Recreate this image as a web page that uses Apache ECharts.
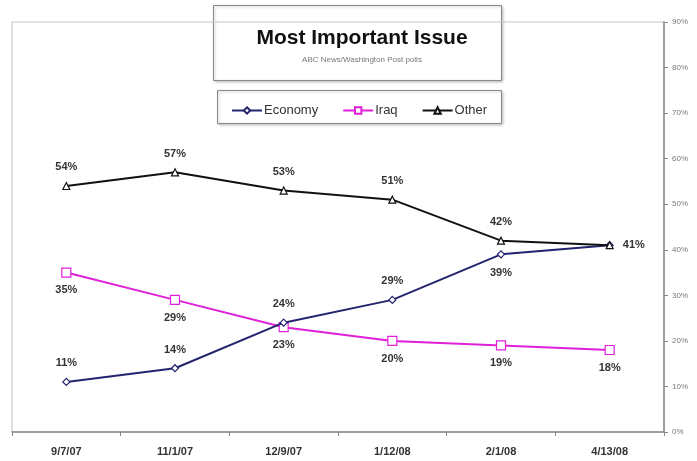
<!DOCTYPE html>
<html>
<head>
<meta charset="utf-8">
<script src="https://cdn.jsdelivr.net/npm/echarts@6/dist/echarts.min.js"></script>
<style>
  html, body { margin: 0; padding: 0; background: #fff; }
  #chart { width: 697px; height: 461px; }
</style>
</head>
<body>
<div id="chart"></div>
<script>
// Poll dates and the share naming each issue as most important (%)
const pollDates = ['9/7/07', '11/1/07', '12/9/07', '1/12/08', '2/1/08', '4/13/08'];
const economy = [11, 14, 24, 29, 39, 41];
const iraq = [35, 29, 23, 20, 19, 18];
const other = [54, 57, 53, 51, 42, 41];
const yTicks = [0, 10, 20, 30, 40, 50, 60, 70, 80, 90];

const FONT = '"Liberation Sans", Arial, sans-serif';
const labelStyle = { fontFamily: FONT, fontSize: 11, fontWeight: 'bold', color: '#333' };

// Per-point label placement for each series
function withLabels(values, places, distance) {
  return values.map((v, i) => {
    const p = places[i];
    if (p === null) return { value: v, label: { show: false } };
    return { value: v, label: Object.assign({ show: true, position: p, distance: distance, formatter: '{c}%' }, labelStyle) };
  });
}

const chart = echarts.init(document.getElementById('chart'), null, { renderer: 'canvas' });

chart.setOption({
  animation: false,
  backgroundColor: '#fff',
  title: {
    text: 'Most Important Issue',
    subtext: 'ABC News/Washington Post polls',
    left: 357,
    top: 23,
    textAlign: 'center',
    itemGap: 7,
    textStyle: { fontFamily: FONT, fontSize: 21, fontWeight: 'bold', color: '#111' },
    subtextStyle: { fontFamily: FONT, fontSize: 8, color: '#777' }
  },
  graphic: [
    {
      type: 'rect',
      shape: { x: 213.5, y: 5.5, width: 288, height: 75 },
      style: { fill: '#fff', stroke: '#8a8a8a', lineWidth: 1, shadowBlur: 3, shadowOffsetX: 1, shadowOffsetY: 1, shadowColor: 'rgba(0,0,0,0.25)' },
      z: -1
    },
    {
      type: 'rect',
      shape: { x: 217.5, y: 90.5, width: 284, height: 33 },
      style: { fill: '#fff', stroke: '#8a8a8a', lineWidth: 1, shadowBlur: 3, shadowOffsetX: 1, shadowOffsetY: 1, shadowColor: 'rgba(0,0,0,0.25)' },
      z: -1
    }
  ],
  legend: {
    left: 226,
    top: 99,
    itemWidth: 30,
    itemHeight: 8,
    itemGap: 24,
    textStyle: { fontFamily: FONT, fontSize: 13, color: '#333', padding: [0, 0, 0, -3] },
    data: ['Economy', 'Iraq', 'Other']
  },
  grid: {
    left: 12, right: 33, top: 22, bottom: 29,
    show: true, borderColor: '#c4c4c4', borderWidth: 1
  },
  xAxis: {
    type: 'category',
    data: pollDates,
    boundaryGap: true,
    axisLine: { lineStyle: { color: '#888', width: 1.5 } },
    axisTick: { show: true, length: 4, lineStyle: { color: '#888' } },
    axisLabel: { margin: 14, fontFamily: FONT, fontSize: 11, fontWeight: 'bold', color: '#333' },
    splitLine: { show: false }
  },
  yAxis: {
    type: 'value',
    position: 'right',
    min: yTicks[0],
    max: yTicks[yTicks.length - 1],
    interval: 10,
    axisLine: { show: true, lineStyle: { color: '#888', width: 1.5 } },
    axisTick: { show: true, inside: false, length: 4, lineStyle: { color: '#888' } },
    axisLabel: { margin: 8, fontFamily: FONT, fontSize: 8, color: '#777', formatter: '{value}%' },
    splitLine: { show: false }
  },
  series: [
    {
      name: 'Economy',
      type: 'line',
      data: withLabels(economy, ['top', 'top', 'top', 'top', 'bottom', null], 9),
      symbol: 'diamond',
      symbolSize: 7,
      itemStyle: { color: '#fff', borderColor: '#23236e', borderWidth: 1.2 },
      lineStyle: { color: '#23236e', width: 2 },
      z: 3
    },
    {
      name: 'Iraq',
      type: 'line',
      data: withLabels(iraq, ['bottom', 'bottom', 'bottom', 'bottom', 'bottom', 'bottom'], 7),
      symbol: 'rect',
      symbolSize: 9,
      itemStyle: { color: '#fff', borderColor: '#e020d8', borderWidth: 1.2 },
      lineStyle: { color: '#e020d8', width: 2 },
      z: 2
    },
    {
      name: 'Other',
      type: 'line',
      data: withLabels(other, ['top', 'top', 'top', 'top', 'top', 'right'], 9),
      symbol: 'triangle',
      symbolSize: 7,
      itemStyle: { color: '#fff', borderColor: '#111', borderWidth: 1.2 },
      lineStyle: { color: '#111', width: 2 },
      z: 4
    }
  ]
});
</script>
</body>
</html>
